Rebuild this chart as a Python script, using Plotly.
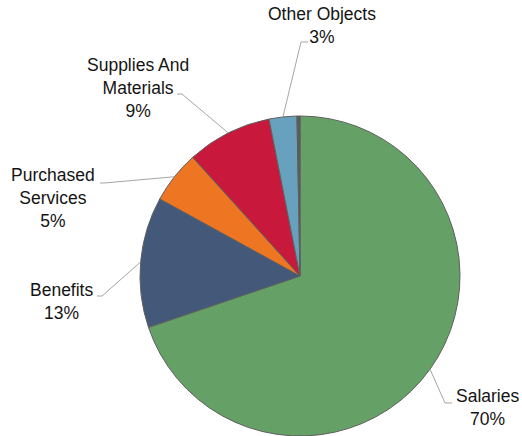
import math
import plotly.graph_objects as go

# Expenditure shares by object (percent of total)
categories = ["Salaries", "Benefits", "Purchased Services",
              "Supplies And Materials", "Other Objects", ""]
label_lines = [["Salaries"], ["Benefits"], ["Purchased", "Services"],
               ["Supplies And", "Materials"], ["Other Objects"], []]
shares = [69.8, 13.2, 5.3, 8.6, 2.8, 0.3]
colors = ["#65A066", "#44587A", "#EE7623", "#C8193C", "#67A1BE", "#5A5A5A"]

W, H = 522, 436
CX, CY, R = 300, 276, 160  # pie centre and radius in pixels

# label block centre, leader elbow and leader end (pixels)
label_layout = {
    "Salaries": ((487, 407), (445, 403), (452, 403)),
    "Benefits": ((61, 301), (102, 296), (97, 296)),
    "Purchased Services": ((53, 198), (104, 183), (100, 183)),
    "Supplies And Materials": ((138, 88), (182, 94), (177, 94)),
    "Other Objects": ((322, 26), (301, 42), (308, 42)),
}


def px(x):
    return x / W


def py(y):
    return 1 - y / H


fig = go.Figure(go.Pie(
    values=shares,
    sort=False,
    direction="clockwise",
    rotation=0,
    textinfo="none",
    hoverinfo="skip",
    marker=dict(colors=colors, line=dict(color="#5F5F5F", width=1)),
    domain=dict(x=[px(CX - R), px(CX + R)], y=[py(CY + R), py(CY - R)]),
    showlegend=False,
))

total = sum(shares)
cum = 0.0
shapes = []
annotations = []
for name, lines, v in zip(categories, label_lines, shares):
    mid = math.radians(360 * (cum + v / 2) / total)
    cum += v
    if name not in label_layout:
        continue
    (tx, ty), (ex, ey), (lx, ly) = label_layout[name]
    ax = CX + R * math.sin(mid)
    ay = CY - R * math.cos(mid)
    shapes.append(dict(
        type="path", xref="paper", yref="paper",
        path=f"M {px(ax)},{py(ay)} L {px(ex)},{py(ey)} L {px(lx)},{py(ly)}",
        line=dict(color="#A6A6A6", width=1),
    ))
    text = "<br>".join(lines + [f"{round(v / total * 100)}%"])
    annotations.append(dict(
        x=px(tx), y=py(ty), xref="paper", yref="paper",
        xanchor="center", yanchor="middle", showarrow=False,
        text=text, align="center",
        font=dict(family="Liberation Sans, Arial, sans-serif", size=17.5,
                  color="#141414"),
    ))

fig.update_layout(
    width=W, height=H,
    margin=dict(l=0, r=0, t=0, b=0),
    paper_bgcolor="white",
    plot_bgcolor="white",
    shapes=shapes,
    annotations=annotations,
)

fig.write_html("out.html")
